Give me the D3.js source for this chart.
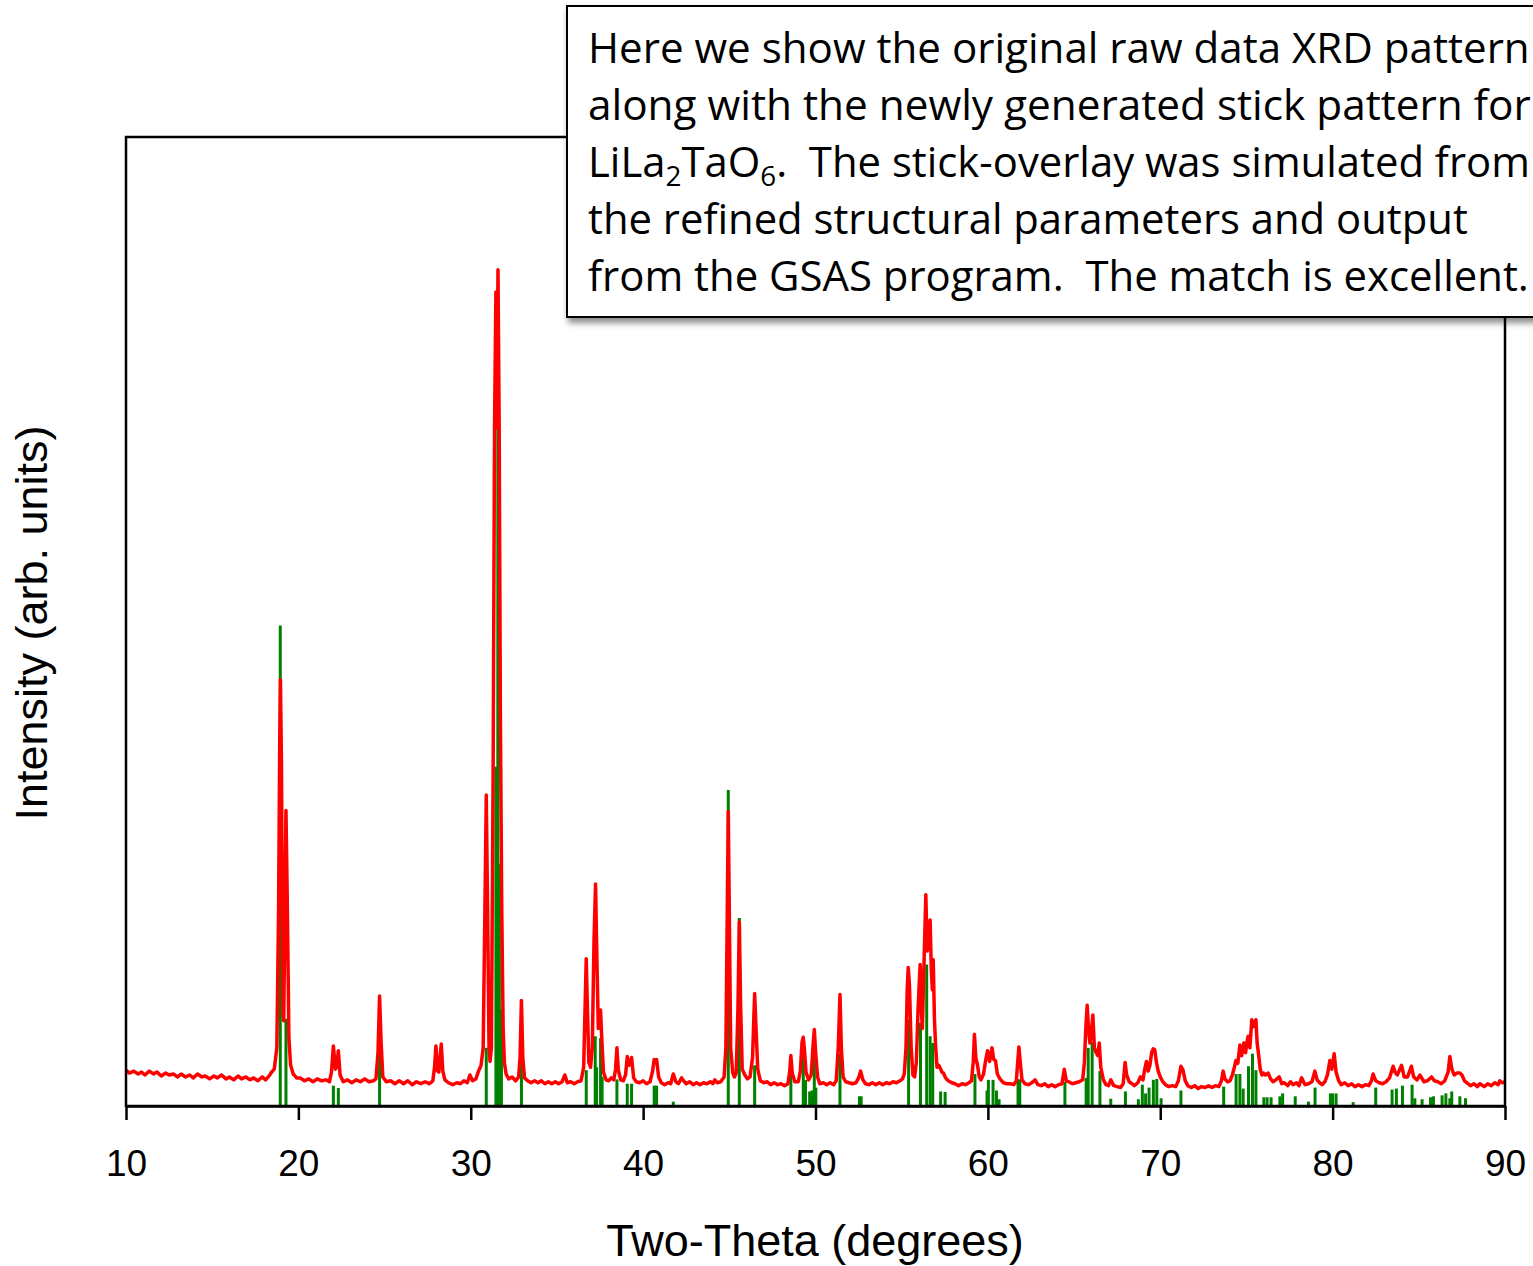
<!DOCTYPE html>
<html>
<head>
<meta charset="utf-8">
<script src="https://cdn.jsdelivr.net/npm/d3@7"></script>
<style>
  body { margin: 0; background: #fff; }
  svg { display: block; }
</style>
</head>
<body>
<div id="chart"></div>
<script>
// tick labels on the two-theta axis
const xTicks = [10, 20, 30, 40, 50, 60, 70, 80, 90]

// raw XRD scan, [two-theta, intensity] (intensity 0-100 = plot height)
const rawPattern = [
  [10.0, 3.7], [10.2, 3.4], [10.45, 3.6], [10.7, 3.3], [10.9, 3.5], [11.1, 3.2], [11.35, 3.6], [11.6, 3.3],
  [11.8, 3.5], [12.05, 3.1], [12.3, 3.4], [12.5, 3.2], [12.75, 3.3], [13.0, 3.0], [13.2, 3.3], [13.45, 3.0],
  [13.7, 3.2], [13.9, 2.9], [14.15, 3.3], [14.4, 3.0], [14.6, 3.1], [14.85, 2.8], [15.1, 3.1], [15.3, 2.9],
  [15.55, 3.2], [15.8, 2.8], [16.0, 3.0], [16.25, 2.7], [16.5, 3.1], [16.7, 2.8], [16.95, 3.0], [17.2, 2.7],
  [17.4, 2.9], [17.65, 2.6], [17.9, 3.0], [18.1, 2.7], [18.3, 3.1], [18.45, 3.5], [18.6, 3.8], [18.75, 6],
  [18.85, 20], [18.92, 38], [18.96, 44], [19.02, 35], [19.1, 9.5], [19.15, 8.8], [19.22, 20], [19.28, 30.5],
  [19.35, 22], [19.45, 7], [19.55, 4.2], [19.7, 3.3], [19.9, 2.9], [20.1, 2.9], [20.35, 2.6], [20.6, 2.8],
  [20.85, 2.5], [21.1, 2.8], [21.35, 2.6], [21.6, 2.7], [21.8, 2.5], [21.92, 3.5], [22.03, 6.2], [22.15, 3.8],
  [22.22, 4.0], [22.32, 5.7], [22.42, 3.2], [22.6, 2.5], [22.85, 2.7], [23.1, 2.4], [23.35, 2.7], [23.6, 2.5],
  [23.85, 2.8], [24.1, 2.5], [24.35, 2.6], [24.5, 2.8], [24.62, 5.5], [24.71, 11.35], [24.8, 6.5], [24.9, 3.0],
  [25.1, 2.5], [25.35, 2.6], [25.6, 2.3], [25.85, 2.6], [26.1, 2.3], [26.35, 2.6], [26.6, 2.2], [26.85, 2.5],
  [27.1, 2.3], [27.35, 2.5], [27.6, 2.3], [27.8, 2.6], [27.9, 4.0], [27.98, 6.2], [28.08, 3.6], [28.15, 3.5],
  [28.29, 6.4], [28.38, 3.6], [28.5, 2.7], [28.7, 2.4], [28.95, 2.2], [29.2, 2.4], [29.4, 2.3], [29.6, 2.6],
  [29.8, 2.4], [29.95, 3.2], [30.1, 2.6], [30.3, 2.8], [30.45, 3.6], [30.6, 4.2], [30.72, 6], [30.82, 20],
  [30.9, 32.1], [30.98, 20], [31.06, 6], [31.12, 4.6], [31.2, 6], [31.3, 35], [31.38, 70], [31.46, 84.0],
  [31.52, 70], [31.58, 86.3], [31.65, 70], [31.72, 40], [31.8, 20], [31.88, 8], [31.95, 4.5], [32.05, 3.3],
  [32.2, 2.8], [32.4, 3.0], [32.6, 2.6], [32.78, 3.0], [32.86, 5], [32.94, 10.9], [33.02, 5], [33.12, 2.9],
  [33.3, 2.6], [33.5, 2.4], [33.7, 2.6], [33.9, 2.4], [34.1, 2.6], [34.3, 2.3], [34.5, 2.5], [34.7, 2.3],
  [34.9, 2.5], [35.1, 2.3], [35.3, 2.5], [35.46, 3.2], [35.6, 2.4], [35.8, 2.5], [36.0, 2.3], [36.2, 2.5],
  [36.4, 2.6], [36.55, 4], [36.63, 10], [36.7, 15.2], [36.77, 10], [36.85, 4.5], [36.95, 4.0], [37.05, 6],
  [37.15, 17], [37.24, 22.9], [37.32, 15], [37.4, 8], [37.48, 9.0], [37.53, 9.9], [37.6, 7], [37.7, 3.5],
  [37.85, 2.7], [38.0, 2.6], [38.15, 2.9], [38.3, 2.7], [38.4, 3.8], [38.48, 6.0], [38.56, 3.7], [38.7, 2.7],
  [38.85, 2.6], [38.98, 3.2], [39.08, 5.1], [39.18, 4.2], [39.25, 4.4], [39.33, 5.0], [39.45, 2.9], [39.6, 2.5],
  [39.8, 2.4], [40.0, 2.6], [40.2, 2.3], [40.4, 2.5], [40.55, 3.6], [40.64, 4.8], [40.72, 4.6], [40.78, 4.8],
  [40.9, 3.0], [41.05, 2.4], [41.25, 2.2], [41.45, 2.4], [41.6, 2.3], [41.75, 3.3], [41.9, 2.5], [42.05, 2.3],
  [42.23, 2.9], [42.35, 2.6], [42.5, 2.3], [42.7, 2.5], [42.9, 2.2], [43.1, 2.4], [43.3, 2.2], [43.5, 2.4],
  [43.7, 2.3], [43.9, 2.5], [44.05, 2.3], [44.16, 2.7], [44.3, 2.4], [44.5, 2.5], [44.7, 3.0], [44.8, 6],
  [44.87, 18], [44.94, 30.4], [45.0, 20], [45.08, 6], [45.2, 3.4], [45.3, 3.0], [45.4, 3.4], [45.5, 10],
  [45.58, 19.0], [45.66, 10], [45.75, 3.8], [45.9, 3.2], [46.05, 2.8], [46.2, 3.0], [46.35, 5], [46.42, 9],
  [46.47, 11.6], [46.55, 8], [46.65, 3.8], [46.8, 2.6], [47.0, 2.4], [47.2, 2.5], [47.4, 2.2], [47.6, 2.4],
  [47.8, 2.2], [48.0, 2.3], [48.2, 2.1], [48.4, 2.3], [48.5, 3.5], [48.57, 5.2], [48.65, 3.4], [48.8, 2.5],
  [49.0, 2.5], [49.12, 3.6], [49.22, 6.6], [49.29, 7.1], [49.36, 5.8], [49.45, 3.5], [49.6, 2.7], [49.75, 3.2],
  [49.85, 6], [49.93, 7.9], [50.02, 5.2], [50.12, 3.0], [50.25, 2.3], [50.45, 2.4], [50.65, 2.2], [50.85, 2.4],
  [51.05, 2.2], [51.2, 2.6], [51.32, 6], [51.42, 11.5], [51.5, 6], [51.6, 3.0], [51.75, 2.5], [51.95, 2.4],
  [52.15, 2.3], [52.35, 2.4], [52.5, 2.9], [52.62, 3.6], [52.75, 2.7], [52.9, 2.3], [53.1, 2.2], [53.3, 2.4],
  [53.5, 2.2], [53.7, 2.4], [53.9, 2.2], [54.1, 2.4], [54.3, 2.3], [54.5, 2.5], [54.7, 2.4], [54.9, 2.6],
  [55.05, 2.8], [55.15, 3.3], [55.25, 6], [55.32, 12], [55.38, 14.3], [55.45, 12.5], [55.55, 6], [55.65, 3.2],
  [55.75, 3.0], [55.85, 4.5], [55.95, 10], [56.07, 14.6], [56.14, 10], [56.2, 8], [56.3, 15], [56.4, 21.8],
  [56.48, 16], [56.55, 17], [56.65, 19.2], [56.72, 14], [56.78, 12], [56.83, 15.1], [56.9, 9], [56.97, 6.1],
  [57.05, 4.0], [57.15, 4.2], [57.24, 3.9], [57.33, 3.5], [57.42, 3.4], [57.55, 2.9], [57.7, 2.6], [57.9, 2.4],
  [58.1, 2.3], [58.3, 2.1], [58.5, 2.3], [58.7, 2.2], [58.9, 2.4], [59.05, 2.6], [59.15, 4.5], [59.22, 7.4],
  [59.3, 5.0], [59.4, 4.2], [59.5, 3.0], [59.6, 2.7], [59.75, 3.3], [59.85, 4.5], [59.98, 5.7], [60.1, 4.6],
  [60.24, 6.0], [60.34, 4.8], [60.44, 4.7], [60.55, 3.3], [60.7, 2.8], [60.9, 2.4], [61.1, 2.3], [61.3, 2.3],
  [61.5, 2.2], [61.65, 2.6], [61.73, 4.5], [61.8, 6.1], [61.88, 4.5], [61.98, 2.7], [62.15, 2.3], [62.35, 2.2],
  [62.55, 2.4], [62.74, 2.7], [62.9, 2.2], [63.1, 2.1], [63.3, 2.3], [63.5, 2.0], [63.7, 2.2], [63.9, 2.0],
  [64.1, 2.2], [64.3, 2.3], [64.43, 3.8], [64.55, 2.6], [64.7, 2.5], [64.9, 2.3], [65.1, 2.4], [65.3, 2.5],
  [65.5, 2.7], [65.6, 4.5], [65.68, 8], [65.76, 10.4], [65.84, 8], [65.92, 6.5], [66.0, 7.5], [66.09, 9.4],
  [66.18, 6.0], [66.28, 5.5], [66.38, 5.2], [66.46, 6.5], [66.55, 4.0], [66.7, 2.7], [66.85, 2.2], [67.0, 2.1],
  [67.13, 2.7], [67.3, 2.1], [67.5, 2.0], [67.7, 1.9], [67.85, 2.3], [67.96, 4.5], [68.05, 3.2], [68.2, 2.5],
  [68.35, 2.3], [68.5, 2.1], [68.7, 2.4], [68.85, 3.0], [69.0, 2.7], [69.1, 3.8], [69.2, 4.6], [69.3, 3.6],
  [69.4, 4.2], [69.5, 5.5], [69.59, 5.9], [69.68, 5.8], [69.78, 4.5], [69.88, 3.6], [70.0, 3.0], [70.15, 2.5],
  [70.3, 2.2], [70.5, 2.0], [70.7, 2.1], [70.9, 2.0], [71.05, 2.6], [71.2, 4.1], [71.32, 3.7], [71.45, 2.6],
  [71.6, 2.1], [71.8, 1.9], [72.0, 2.1], [72.2, 1.8], [72.4, 2.0], [72.6, 1.9], [72.8, 2.1], [73.0, 1.9],
  [73.2, 2.1], [73.4, 2.0], [73.55, 2.6], [73.65, 3.6], [73.75, 2.8], [73.9, 2.5], [74.05, 2.6], [74.2, 3.3],
  [74.3, 4.0], [74.39, 4.7], [74.5, 4.4], [74.62, 6.3], [74.72, 5.2], [74.85, 6.5], [74.95, 5.5], [75.05, 6.8],
  [75.1, 7.2], [75.2, 6.0], [75.31, 8.9], [75.43, 8.2], [75.55, 8.9], [75.62, 6.5], [75.7, 5.4], [75.8, 3.8],
  [75.9, 3.2], [76.0, 3.4], [76.1, 3.2], [76.26, 3.4], [76.4, 2.8], [76.55, 2.5], [76.7, 2.7], [76.9, 3.0],
  [77.05, 2.3], [77.2, 2.4], [77.4, 2.1], [77.55, 2.5], [77.7, 2.2], [77.9, 2.4], [78.05, 2.1], [78.2, 2.9],
  [78.4, 2.2], [78.6, 2.3], [78.8, 2.5], [78.97, 3.6], [79.1, 2.7], [79.25, 2.4], [79.4, 2.2], [79.55, 2.5],
  [79.7, 3.2], [79.84, 4.7], [79.95, 3.8], [80.09, 5.4], [80.2, 3.5], [80.35, 2.6], [80.5, 2.2], [80.7, 2.4],
  [80.9, 2.1], [81.1, 2.3], [81.3, 2.0], [81.5, 2.2], [81.7, 2.0], [81.9, 2.2], [82.1, 2.1], [82.25, 2.6],
  [82.35, 3.3], [82.5, 2.6], [82.7, 2.4], [82.9, 2.3], [83.1, 2.5], [83.3, 2.9], [83.51, 4.1], [83.62, 3.5],
  [83.75, 3.2], [84.0, 4.2], [84.15, 3.0], [84.35, 3.0], [84.57, 4.1], [84.7, 3.0], [84.9, 2.7], [85.06, 3.2],
  [85.3, 2.5], [85.5, 2.6], [85.74, 3.0], [85.9, 2.6], [86.1, 2.5], [86.3, 2.3], [86.5, 2.6], [86.7, 3.5],
  [86.8, 5.1], [86.92, 3.8], [87.05, 3.2], [87.2, 3.4], [87.38, 3.4], [87.5, 3.2], [87.65, 2.6], [87.85, 2.3],
  [88.0, 2.1], [88.2, 2.3], [88.4, 2.0], [88.54, 2.3], [88.8, 2.0], [89.0, 2.3], [89.2, 2.1], [89.4, 2.4],
  [89.6, 2.2], [89.7, 2.6], [89.85, 2.4], [90.0, 2.5]
]

// simulated stick pattern (GSAS), [two-theta, intensity]
const stickPattern = [
  [18.95, 49.6], [19.28, 9], [22.03, 2.1], [22.32, 1.85], [24.71, 5.8], [30.9, 6],
  [31.46, 35], [31.57, 71.5], [31.66, 25], [31.78, 10], [32.94, 6.1],
  [36.7, 3.7], [37.22, 7.2], [37.3, 4], [37.53, 7.0], [37.62, 3], [38.48, 2.75],
  [39.08, 2.3], [39.33, 2.3], [40.64, 2.1], [40.78, 2.1], [41.75, 0.45],
  [44.94, 32.6], [45.58, 19.4], [46.47, 4.2], [48.57, 3.6], [49.29, 5.4], [49.42, 2.7],
  [49.66, 1.5], [49.8, 1.6], [49.93, 5.4], [50.02, 1.9], [51.42, 5.4], [52.55, 1.0], [52.65, 1.0],
  [55.4, 8.9], [56.09, 8.6], [56.45, 14.6], [56.65, 7.2], [56.8, 6.5], [57.26, 1.5], [57.52, 1.45],
  [59.25, 3.3], [59.95, 1.6], [60.03, 2.7], [60.3, 2.7], [60.5, 1.6], [60.65, 0.7],
  [61.75, 2.75], [61.85, 2.75], [64.47, 2.5], [65.7, 2.9], [65.82, 6.0], [66.05, 6.6], [66.5, 3.6],
  [67.13, 0.75], [67.98, 1.5], [68.73, 0.7], [68.96, 2.2], [69.15, 1.3], [69.35, 1.9], [69.6, 2.7],
  [69.8, 2.8], [70.05, 0.8], [71.2, 1.6], [73.68, 2.0], [74.4, 3.3], [74.62, 3.3], [74.81, 1.8],
  [75.12, 4.1], [75.35, 5.4], [75.55, 3.7], [76.01, 0.9], [76.2, 0.9], [76.43, 0.9], [76.94, 1.0],
  [77.1, 1.3], [77.83, 1.0], [78.6, 0.45], [78.98, 1.9], [79.87, 1.3], [80.0, 1.3], [80.2, 1.3],
  [81.19, 0.4], [82.5, 1.9], [83.45, 1.7], [83.7, 1.8], [84.05, 2.1], [84.61, 2.2], [84.77, 0.8],
  [85.19, 0.7], [85.68, 0.9], [85.85, 1.0], [86.35, 1.1], [86.57, 1.3], [86.8, 0.8], [86.91, 1.5],
  [87.38, 1.0], [87.71, 0.8]
]

// note in the call-out box; sub marks subscript pieces
const noteLines = [
  [{ t: 'Here we show the original raw data XRD pattern' }],
  [{ t: 'along with the newly generated stick pattern for' }],
  [{ t: 'LiLa' }, { t: '2', sub: true }, { t: 'TaO' }, { t: '6', sub: true }, { t: '.  The stick-overlay was simulated from' }],
  [{ t: 'the refined structural parameters and output' }],
  [{ t: 'from the GSAS program.  The match is excellent.' }]
]
const noteWidths = [942, 943, 942, 880, 941]

const width = 1533
const height = 1266
const plot = { left: 126, right: 1505, top: 137, bottom: 1106 }

const svg = d3.select('#chart')
  .append('svg')
  .attr('width', width)
  .attr('height', height)

const x = d3.scaleLinear().domain([10, 90]).range([plot.left, plot.right])
const y = d3.scaleLinear().domain([0, 100]).range([plot.bottom, plot.top])

// sticks first, raw line drawn over them
svg.append('g')
  .selectAll('line')
  .data(stickPattern)
  .join('line')
  .attr('x1', d => x(d[0]))
  .attr('x2', d => x(d[0]))
  .attr('y1', y(0))
  .attr('y2', d => y(d[1]))
  .attr('stroke', '#008000')
  .attr('stroke-width', 3)

const line = d3.line().x(d => x(d[0])).y(d => y(d[1]))
svg.append('path')
  .datum(rawPattern)
  .attr('d', line)
  .attr('fill', 'none')
  .attr('stroke', '#ff0000')
  .attr('stroke-width', 3.5)
  .attr('stroke-linejoin', 'round')

// frame
svg.append('rect')
  .attr('x', plot.left)
  .attr('y', plot.top)
  .attr('width', plot.right - plot.left)
  .attr('height', plot.bottom - plot.top)
  .attr('fill', 'none')
  .attr('stroke', '#000')
  .attr('stroke-width', 2.5)

const xAxis = svg.append('g')
  .attr('transform', `translate(0,${plot.bottom})`)
  .call(d3.axisBottom(x).tickValues(xTicks).tickSize(14).tickSizeOuter(0).tickPadding(30))
xAxis.select('.domain').attr('stroke-width', 2.5)
xAxis.selectAll('.tick line').attr('stroke-width', 2.5)
xAxis.selectAll('.tick text')
  .attr('font-family', '"Liberation Sans", Arial, sans-serif')
  .attr('font-size', 37)
  .attr('fill', '#000')

svg.append('text')
  .attr('x', 815)
  .attr('y', 1256)
  .attr('text-anchor', 'middle')
  .attr('font-family', '"Liberation Sans", Arial, sans-serif')
  .attr('font-size', 45)
  .text('Two-Theta (degrees)')

svg.append('text')
  .attr('transform', 'translate(47,623) rotate(-90)')
  .attr('text-anchor', 'middle')
  .attr('font-family', '"Liberation Sans", Arial, sans-serif')
  .attr('font-size', 45)
  .text('Intensity (arb. units)')

// call-out box
const defs = svg.append('defs')
const shadow = defs.append('filter').attr('id', 'shadow')
  .attr('x', '-5%').attr('y', '-5%').attr('width', '115%').attr('height', '125%')
shadow.append('feDropShadow')
  .attr('dx', 2).attr('dy', 5).attr('stdDeviation', 3)
  .attr('flood-color', '#000').attr('flood-opacity', 0.45)

svg.append('rect')
  .attr('x', 567)
  .attr('y', 6)
  .attr('width', 1000)
  .attr('height', 311)
  .attr('fill', '#fff')
  .attr('stroke', '#000')
  .attr('stroke-width', 2)
  .attr('filter', 'url(#shadow)')

noteLines.forEach((parts, i) => {
  const g = svg.append('g')
  const t = g.append('text')
    .attr('font-family', '"Open Sans", "Noto Sans", sans-serif')
    .attr('font-size', 42)
    .style('white-space', 'pre')
  parts.forEach((p, j) => {
    const s = t.append('tspan').text(p.t)
    if (p.sub) s.attr('font-size', 28).attr('dy', 9)
    else if (j > 0) s.attr('dy', -9)
  })
  const w = t.node().getBBox().width
  g.attr('transform', `translate(588,${63 + i * 57}) scale(${noteWidths[i] / w},1)`)
})
</script>
</body>
</html>
